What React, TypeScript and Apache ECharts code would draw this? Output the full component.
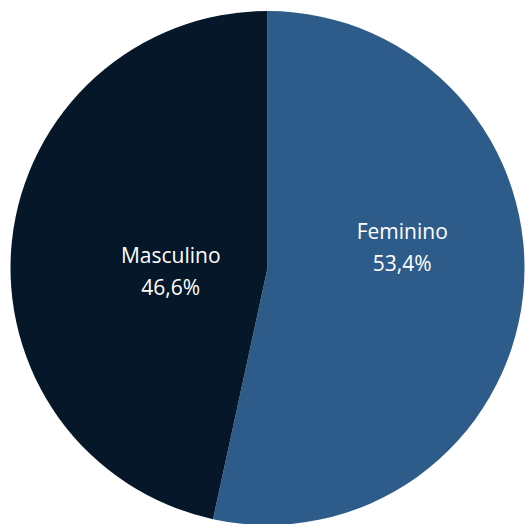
import React, { useEffect, useRef } from "react";
import * as echarts from "echarts";

const categories = ["Feminino", "Masculino"];
const values = [53.4, 46.6];
const colors = ["#2E5C8A", "#051729"];
// label nudges (px) to match the reference's label placement
const labelShiftX = [4, 34];
const labelShiftY = [-35, 17];

export default function App() {
  const ref = useRef<HTMLDivElement>(null);
  useEffect(() => {
    if (!ref.current) return;
    const chart = echarts.init(ref.current, null, { renderer: "svg" });
    chart.setOption({
      animation: false,
      backgroundColor: "#ffffff",
      series: [
        {
          type: "pie",
          center: [267.5, 268],
          radius: [0, 257],
          startAngle: 90,
          clockwise: true,
          data: categories.map((name, i) => ({
            name,
            value: values[i],
            itemStyle: { color: colors[i] },
          })),
          itemStyle: { borderWidth: 0 },
          emphasis: { disabled: true },
          label: {
            show: true,
            position: "inside",
            color: "#ffffff",
            fontFamily: "Open Sans",
            fontSize: 21,
            lineHeight: 32,
            formatter: (p: any) =>
              p.name + "\n" + p.value.toFixed(1).replace(".", ",") + "%",
          },
          labelLine: { show: false },
          labelLayout: (p: any) => ({
            dx: labelShiftX[p.dataIndex],
            dy: labelShiftY[p.dataIndex],
          }),
        },
      ],
    });
    return () => chart.dispose();
  }, []);
  return (
    <div
      ref={ref}
      style={{ position: "absolute", left: 0, top: 0, width: 526, height: 524 }}
    />
  );
}
